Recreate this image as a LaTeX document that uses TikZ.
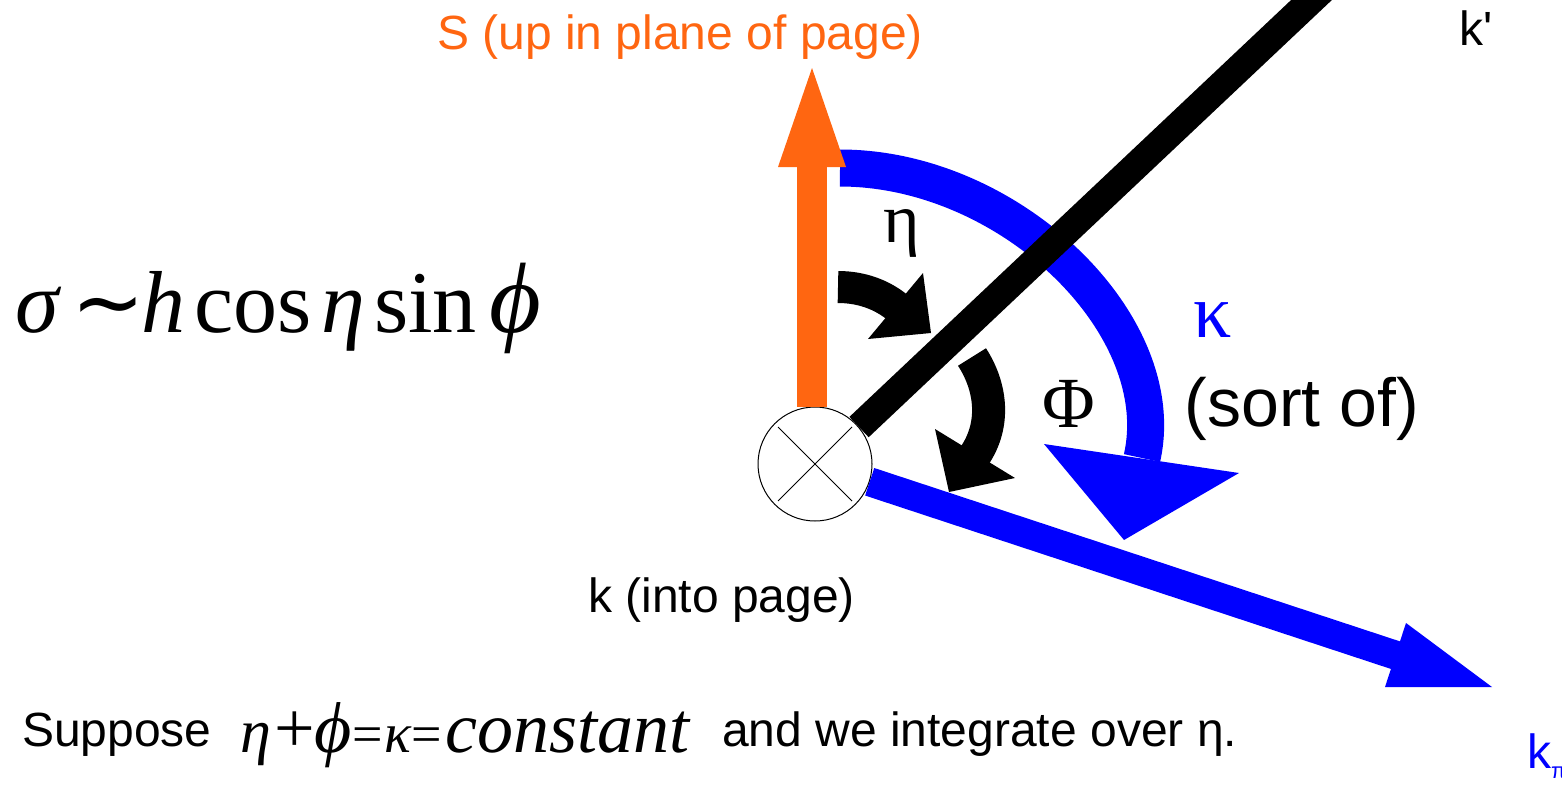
\documentclass[tikz,border=0pt]{standalone}
\usepackage{fontspec}
\setmainfont{Liberation Serif}
\setsansfont{Liberation Sans}
\newfontfamily\dvs{DejaVu Sans}
\newfontfamily\plainsans{Liberation Sans}[Ligatures=TeXOff]
\definecolor{sorange}{HTML}{FF6611}
\definecolor{kblue}{HTML}{0000FF}
\newcommand{\pbox}[2]{\makebox[#1pt][l]{#2}}
\begin{document}
\begin{tikzpicture}[x=1pt,y=-1pt,
  lbl/.style={inner sep=0, font=\sffamily\fontsize{48}{56}\selectfont},
  serifl/.style={inner sep=0, anchor=base},
  band/.style={line cap=butt, line join=miter}]
\useasboundingbox (0,0) rectangle (1562,785);
\clip (0,0) rectangle (1562,785);

% centre: k into page
\node[circle, draw, line width=1pt, minimum size=114pt, inner sep=0] (k) at (815,464) {};
\draw[line width=1pt] ([shift={(-37,-37)}]k.center) -- ([shift={(37,37)}]k.center);
\draw[line width=1pt] ([shift={(-37,37)}]k.center) -- ([shift={(37,-37)}]k.center);

% blue kappa arc
\coordinate (arcS) at (840,168);
\coordinate (arcE) at (1142,458);
\draw[band, kblue, line width=37pt] (arcS) .. controls (1010,168) and (1172,325) .. (arcE);
\fill[kblue] (1044,444) -- (1239,473) -- (1124,540) -- cycle;

% S arrow
\coordinate (Sbase) at (812,167);
\coordinate (Stip) at (812,68);
\draw[band, sorange, line width=30pt] (Sbase |- k.north) -- (Sbase);
\fill[sorange] (778,167) -- (Stip) -- (846,167) -- cycle;

% k' line
\coordinate (kpEnd) at (1356,-42);
\draw[band, line width=28pt] (k.40) -- (kpEnd);

% k_pi arrow
\coordinate (kpiB) at (1398,656);
\draw[band, kblue, line width=29pt] (k.-18) -- (kpiB);
\fill[kblue] (1406,623) -- (1492,687) -- (1385,687) -- cycle;

% eta arrow
\coordinate (etaS) at (838,287);
\coordinate (etaE) at (897,307);
\draw[band, line width=32pt] (etaS) .. controls (862,287) and (882,295) .. (etaE);
\fill (923,273) -- (931,333) -- (868,339) -- cycle;

% Phi arrow
\coordinate (phiS) at (972,357);
\coordinate (phiE) at (975,455);
\draw[band, line width=33pt] (phiS) .. controls (992,388) and (995,425) .. (phiE);
\fill (935,429) -- (1015,478) -- (949,492) -- cycle;

% labels
\node[lbl, text=sorange, anchor=base] (Slab) at (680,49) {S (up in plane of page)};
\node[lbl, anchor=base, font=\plainsans\fontsize{48}{56}\selectfont] (kplab) at (1476,45) {k'};
\node[lbl, anchor=base] (klab) at (721.5,612) {k (into page)};
\node[serifl, font=\sffamily\fontsize{68}{80}\selectfont] (sort) at (1302,426) {(sort of)};
\node[serifl, text=kblue, font=\rmfamily\fontsize{76}{80}\selectfont] (kappa) at (1213,337) {κ};
\node[serifl, font=\rmfamily\fontsize{72}{80}\selectfont] (Phi) at (1069,427) {Φ};
\node[serifl, font=\rmfamily\fontsize{70}{80}\selectfont] (eta) at (902,242) {η};
\node[lbl, text=kblue, anchor=base west] (kpi) at (1527,768) {k\raisebox{-10pt}{\fontsize{22}{24}\selectfont π}};

\node[inner sep=0, anchor=base west, font=\rmfamily\fontsize{88}{96}\selectfont] (sigma) at (15,332)
  {\pbox{56}{\itshape σ}\pbox{70}{\dvs ∼}\pbox{53}{\itshape h}\pbox{127}{cos}\pbox{53}{\itshape η}\pbox{115}{sin}{\itshape\fontsize{100}{100}\selectfont ϕ}};

\node[lbl, anchor=base west] (cap) at (22,746) {Suppose};
\node[inner sep=0, anchor=base west, font=\rmfamily\fontsize{72}{80}\selectfont] (cond) at (240,752)
  {\pbox{34}{\itshape\fontsize{62}{62}\selectfont η}\pbox{40}{+}\pbox{38}{\itshape ϕ}\pbox{32}{\fontsize{54}{54}\selectfont =}\pbox{27}{\itshape\fontsize{56}{56}\selectfont κ}\pbox{34}{\fontsize{54}{54}\selectfont =}{\itshape constant}};
\node[lbl, anchor=base west] (cap2) at (722,746) {and we integrate over η.};
\end{tikzpicture}
\end{document}
